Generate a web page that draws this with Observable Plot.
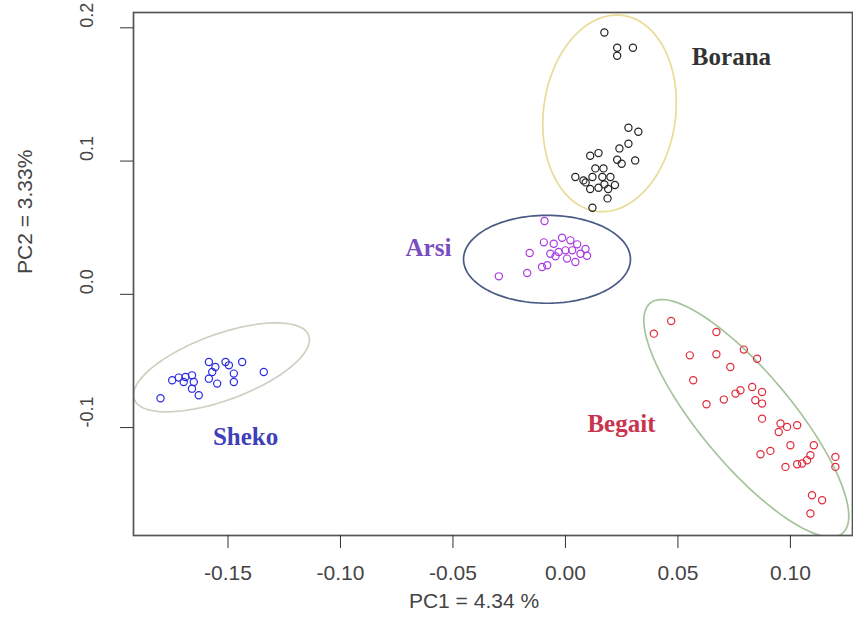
<!DOCTYPE html>
<html>
<head>
<meta charset="utf-8">
<script src="https://cdn.jsdelivr.net/npm/d3@7"></script>
<script src="https://cdn.jsdelivr.net/npm/@observablehq/plot@0.6"></script>
<style>
  html, body { margin: 0; padding: 0; background: #fff; }
  #chart { width: 853px; height: 640px; }
</style>
</head>
<body>
<div id="chart"></div>
<script>
// ---- Data ----
const groups = ["Borana", "Arsi", "Sheko", "Begait"];
const groupColors = ["#222222", "#a83ae0", "#2a2ae0", "#e02a3a"];
const ellipseColors = ["#e8dc96", "#4a5a84", "#cfcfc2", "#a6c49c"];
const labelColors = ["#333333", "#7a4cc0", "#3f3fb8", "#c8344e"];

const boranaPC1 = [0.0173, 0.023, 0.023, 0.030, 0.028, 0.0324, 0.028, 0.024, 0.031, 0.023, 0.025, 0.011, 0.0147, 0.0133, 0.0169, 0.0044, 0.008, 0.012, 0.0164, 0.020, 0.011, 0.0147, 0.019, 0.0187, 0.022, 0.012, 0.009, 0.0173];
const boranaPC2 = [0.1965, 0.185, 0.179, 0.185, 0.125, 0.122, 0.113, 0.1095, 0.1005, 0.101, 0.098, 0.104, 0.106, 0.0945, 0.0945, 0.088, 0.0855, 0.088, 0.088, 0.088, 0.079, 0.080, 0.079, 0.072, 0.082, 0.065, 0.084, 0.0825];

const arsiPC1 = [-0.0093, -0.0159, -0.0096, -0.0052, -0.0015, 0.0022, 0.0052, 0.0089, 0.0096, 0.003, 0.000, -0.003, -0.0067, 0.0007, 0.0044, -0.0081, -0.0104, -0.017, -0.0296, -0.0044, 0.0067];
const arsiPC2 = [0.055, 0.031, 0.039, 0.038, 0.0425, 0.0405, 0.0375, 0.034, 0.029, 0.033, 0.033, 0.0318, 0.0305, 0.0268, 0.0242, 0.0218, 0.0205, 0.016, 0.0135, 0.0285, 0.0305];

const shekoPC1 = [-0.180, -0.1748, -0.1719, -0.1689, -0.166, -0.1652, -0.166, -0.163, -0.1585, -0.1556, -0.157, -0.1585, -0.1548, -0.1511, -0.1496, -0.1437, -0.1474, -0.1474, -0.1341, -0.1697];
const shekoPC2 = [-0.078, -0.0645, -0.0625, -0.062, -0.0608, -0.0658, -0.0708, -0.0758, -0.0508, -0.0545, -0.0583, -0.0633, -0.067, -0.0508, -0.0533, -0.0508, -0.0595, -0.0658, -0.0583, -0.0658];

const begaitPC1 = [0.0393, 0.047, 0.0671, 0.0553, 0.0671, 0.0793, 0.0852, 0.0733, 0.0568, 0.0627, 0.0704, 0.0756, 0.0778, 0.083, 0.0874, 0.0844, 0.0874, 0.0874, 0.0956, 0.0985, 0.103, 0.0948, 0.100, 0.0867, 0.0911, 0.1104, 0.1089, 0.0978, 0.103, 0.1052, 0.1074, 0.120, 0.120, 0.1096, 0.1141, 0.1089];
const begaitPC2 = [-0.0295, -0.020, -0.0283, -0.0458, -0.045, -0.0415, -0.0483, -0.0545, -0.0645, -0.0825, -0.079, -0.0745, -0.072, -0.0695, -0.0733, -0.0795, -0.082, -0.0933, -0.097, -0.0995, -0.0983, -0.1033, -0.1133, -0.120, -0.1175, -0.1133, -0.1208, -0.1295, -0.1275, -0.127, -0.1245, -0.122, -0.1295, -0.1508, -0.1545, -0.1645];

// Ellipse parameters: centre and two conjugate half-axis vectors (data units)
const ellipseCx = [0.0196, -0.0082, -0.1529, 0.0804];
const ellipseCy = [0.1358, 0.0263, -0.0548, -0.0930];
const ellipseUx = [0.0058, 0.0371, 0.0388, 0.0428];
const ellipseUy = [0.0735, 0.0000, 0.0239, -0.0863];
const ellipseVx = [0.0291, 0.0000, 0.0050, 0.0156];
const ellipseVy = [-0.0065, 0.0330, -0.0233, 0.0222];

// Group label positions (data units)
const labelPC1 = [0.0738, -0.0609, -0.1422, 0.0249];
const labelPC2 = [0.1778, 0.0345, -0.1073, -0.0975];

const xTicks = [-0.15, -0.10, -0.05, 0.00, 0.05, 0.10];
const xTickLabels = ["-0.15", "-0.10", "-0.05", "0.00", "0.05", "0.10"];
const yTicks = [-0.1, 0.0, 0.1, 0.2];
const yTickLabels = ["-0.1", "0.0", "0.1", "0.2"];
const xTitle = "PC1 = 4.34 %";
const yTitle = "PC2 = 3.33%";

// ---- Build tables ----
const pc1 = [boranaPC1, arsiPC1, shekoPC1, begaitPC1];
const pc2 = [boranaPC2, arsiPC2, shekoPC2, begaitPC2];
const points = [];
groups.forEach((g, gi) => {
  pc1[gi].forEach((x, i) => points.push({group: g, x, y: pc2[gi][i]}));
});

const ellipsePts = [];
const N = 120;
groups.forEach((g, gi) => {
  for (let k = 0; k <= N; k++) {
    const t = (2 * Math.PI * k) / N;
    ellipsePts.push({
      group: g,
      x: ellipseCx[gi] + ellipseUx[gi] * Math.cos(t) + ellipseVx[gi] * Math.sin(t),
      y: ellipseCy[gi] + ellipseUy[gi] * Math.cos(t) + ellipseVy[gi] * Math.sin(t)
    });
  }
});

const labels = groups.map((g, gi) => ({group: g, x: labelPC1[gi], y: labelPC2[gi], color: labelColors[gi]}));
const yLabelRows = yTicks.map((v, i) => ({y: v, text: yTickLabels[i]}));

const chart = Plot.plot({
  width: 853,
  height: 640,
  marginLeft: 133,
  marginRight: 1,
  marginTop: 12,
  marginBottom: 105,
  style: {background: "#fff", fontFamily: "Liberation Sans, Arial, sans-serif"},
  x: {domain: [-0.192, 0.1276]},
  y: {domain: [-0.181, 0.2115]},
  color: {domain: groups, range: groupColors},
  marks: [
    Plot.line(ellipsePts, {x: "x", y: "y", z: "group", stroke: (d) => ellipseColors[groups.indexOf(d.group)], strokeWidth: 1.7, clip: true}),
    Plot.dot(points, {x: "x", y: "y", stroke: "group", r: 3.6, strokeWidth: 1.2, fill: "none"}),
    Plot.text(labels, {x: "x", y: "y", text: "group", fill: "color", fontSize: 25, fontWeight: "bold", fontFamily: "Liberation Serif, DejaVu Serif, serif"}),
    Plot.frame({stroke: "#555", strokeWidth: 1.7}),
    Plot.axisX({ticks: xTicks, tickFormat: (d) => xTickLabels[xTicks.indexOf(d)], tickSize: 13, tickPadding: 17, fontSize: 21, stroke: "#333", fill: "#444", label: null}),
    Plot.axisY({ticks: yTicks, tickFormat: () => "", tickSize: 13, stroke: "#333", label: null}),
    Plot.text(yLabelRows, {y: "y", text: "text", frameAnchor: "left", dx: -46, rotate: -90, fontSize: 18, fill: "#444"}),
    Plot.text([xTitle], {frameAnchor: "bottom", dy: 72, dx: -19, fontSize: 21, fill: "#444"}),
    Plot.text([yTitle], {frameAnchor: "left", dx: -108, rotate: -90, fontSize: 21, fill: "#444"})
  ]
});
document.getElementById("chart").appendChild(chart);
</script>
</body>
</html>
